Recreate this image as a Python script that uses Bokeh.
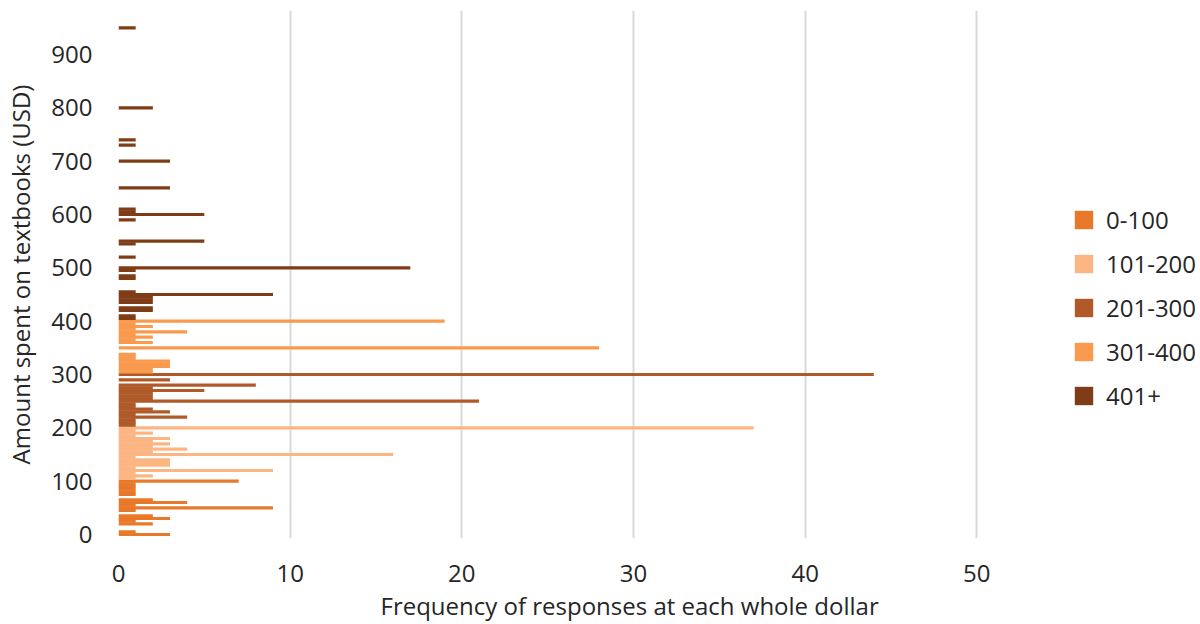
from bokeh.plotting import figure
from bokeh.models import Range1d, FixedTicker, Legend, LegendItem, Title
from bokeh.embed import file_html
from bokeh.resources import INLINE

# ---------------- data (amount in USD, number of responses) ----------------
series_names = ["0-100", "101-200", "201-300", "301-400", "401+"]
series_colors = ["#E8782A", "#FBB683", "#AF5A28", "#F99A4E", "#7E3C17"]

amounts_0_100 = [0, 5, 20, 25, 30, 35, 45, 50, 55, 60, 65, 75, 80, 85, 90, 95, 100]
counts_0_100 = [3, 1, 2, 1, 3, 2, 1, 9, 1, 4, 2, 1, 1, 1, 1, 1, 7]

amounts_101_200 = [105, 110, 115, 120, 125, 130, 135, 140, 145, 150, 155, 160, 165,
                   170, 175, 180, 185, 190, 195, 200]
counts_101_200 = [1, 2, 1, 9, 1, 3, 3, 3, 1, 16, 2, 4, 2, 3, 2, 3, 1, 2, 1, 37]

amounts_201_300 = [205, 210, 215, 220, 225, 230, 235, 240, 245, 250, 255, 260, 265,
                   270, 275, 280, 290, 300]
counts_201_300 = [1, 1, 1, 4, 1, 3, 2, 1, 1, 21, 2, 2, 2, 5, 2, 8, 3, 44]

amounts_301_400 = [305, 310, 315, 320, 325, 330, 335, 338, 350, 360, 365, 370, 375,
                   380, 385, 390, 395, 400]
counts_301_400 = [2, 2, 3, 3, 3, 1, 1, 1, 28, 2, 1, 2, 1, 4, 1, 2, 1, 19]

amounts_401_plus = [405, 410, 420, 425, 435, 440, 445, 450, 455, 480, 485, 495, 500,
                    520, 545, 550, 590, 600, 605, 610, 650, 700, 730, 740, 800, 950]
counts_401_plus = [1, 1, 2, 2, 2, 2, 2, 9, 1, 1, 1, 1, 17,
                   1, 1, 5, 1, 5, 1, 1, 3, 3, 1, 1, 2, 1]

series_amounts = [amounts_0_100, amounts_101_200, amounts_201_300, amounts_301_400, amounts_401_plus]
series_counts = [counts_0_100, counts_101_200, counts_201_300, counts_301_400, counts_401_plus]

x_ticks = [0, 10, 20, 30, 40, 50]
y_ticks = [0, 100, 200, 300, 400, 500, 600, 700, 800, 900]

x_title = "Frequency of responses at each whole dollar"
y_title = "Amount spent on textbooks (USD)"

FONT = "Open Sans"
TXT = "#262626"
FS = "24px"

# frame spans the full width so the legend can sit inside it; ticks/grid stop at 50
p = figure(width=1200, height=624, output_backend="svg", toolbar_location=None,
           x_range=Range1d(0, 63.03), y_range=Range1d(-7.5, 982.5),
           min_border_left=118, min_border_right=0, min_border_top=10, min_border_bottom=86)
p.outline_line_color = None
p.background_fill_color = "white"
p.border_fill_color = "white"

renderers = []
for name, col, am, ct in zip(series_names, series_colors, series_amounts, series_counts):
    r = p.hbar(y=am, right=ct, left=0, height=6, fill_color=col, line_color=None)
    renderers.append((name, r))

# axes
p.xaxis.ticker = FixedTicker(ticks=x_ticks)
p.yaxis.ticker = FixedTicker(ticks=y_ticks)
for ax in (p.xaxis[0], p.yaxis[0]):
    ax.axis_line_color = None
    ax.major_tick_line_color = None
    ax.minor_tick_line_color = None
    ax.major_label_text_font = FONT
    ax.major_label_text_font_size = FS
    ax.major_label_text_color = TXT
p.yaxis.major_label_standoff = 20
p.xaxis.major_label_standoff = 20

# y title as the axis label (placed at a fixed distance from the tick labels)
p.yaxis.axis_label = y_title
p.yaxis.axis_label_standoff = 11
p.yaxis.axis_label_text_font = FONT
p.yaxis.axis_label_text_font_size = FS
p.yaxis.axis_label_text_font_style = "normal"
p.yaxis.axis_label_text_color = TXT

p.ygrid.grid_line_color = None
p.xgrid.ticker = FixedTicker(ticks=x_ticks)
p.xgrid.grid_line_color = "#D9D9D9"
p.xgrid.grid_line_width = 2

# x title
p.add_layout(Title(text=x_title, align="left", offset=262, standoff=5,
                   text_font=FONT, text_font_size=FS, text_color=TXT,
                   text_font_style="normal"), "below")

legend = Legend(items=[LegendItem(label=n, renderers=[r]) for n, r in renderers],
                location=(954, 126), orientation="vertical")
legend.glyph_width = 23
legend.glyph_height = 23
legend.label_standoff = 11
legend.spacing = 11
legend.padding = 0
legend.margin = 0
legend.border_line_color = None
legend.background_fill_alpha = 0
legend.label_text_font = FONT
legend.label_text_font_size = FS
legend.label_text_color = TXT
p.add_layout(legend, "center")

open("out.html", "w").write(file_html(p, INLINE))
